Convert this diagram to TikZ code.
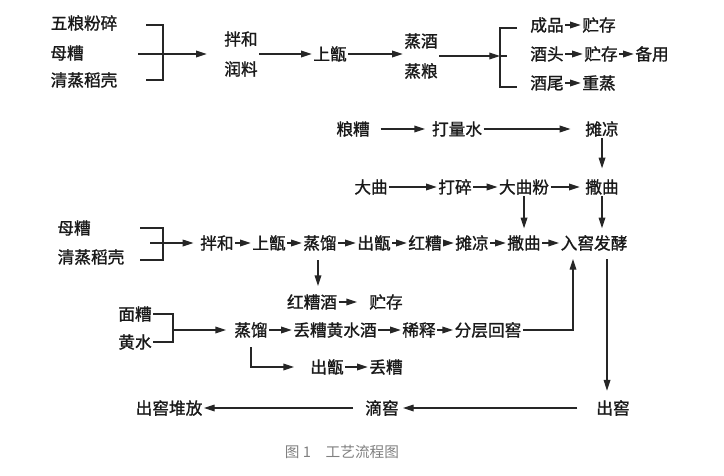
\documentclass[tikz,border=0pt]{standalone}
\usepackage{fontspec}
\setmainfont{Noto Sans CJK SC}[FakeBold=1.2]
\newfontfamily\capfont{Noto Sans CJK SC}
\usetikzlibrary{arrows.meta}

\begin{document}
\begin{tikzpicture}[
    x=0.75pt, y=-0.75pt,
    every node/.style={inner sep=1pt, font=\fontsize{12.5}{22.5}\selectfont, text=black!90},
    stage/.style={align=center},
    line/.style={draw=black!85, line width=0.9pt},
    arr/.style={line, -{Triangle[length=8pt, width=5pt]}},
    caption/.style={font=\capfont\fontsize{11}{13}\selectfont, text=black!50}
]
\useasboundingbox (0,0) rectangle (724,475);

% Nodes: first distillation
\node (wuliang) at (84,23) {五粮粉碎};
\node (muzaoA) at (67,53) {母糟};
\node (daokeA) at (84,80) {清蒸稻壳};
\node[stage] (mixA) at (241,54) {拌和\\润料};
\node (zengA) at (330,54) {上甑};
\node[stage] (steamA) at (421,56) {蒸酒\\蒸粮};
\node (chengpin) at (547,25) {成品};
\node (zhucunA) at (599,25) {贮存};
\node (jiutou) at (547,54) {酒头};
\node (zhucunB) at (601,54) {贮存};
\node (beiyong) at (652,54) {备用};
\node (jiuwei) at (547,83) {酒尾};
\node (chongzheng) at (599,83) {重蒸};

% Nodes: spreading and starter
\node (liangzao) at (353,129) {粮糟};
\node (dashui) at (457,129) {打量水};
\node (tanliangA) at (602,129) {摊凉};
\node (daqu) at (371,187) {大曲};
\node (dasui) at (455,187) {打碎};
\node (daqufen) at (524,187) {大曲粉};
\node (saquA) at (602,187) {撒曲};

% Nodes: main line
\node (muzaoB) at (74,228) {母糟};
\node (daokeB) at (91,257) {清蒸稻壳};
\node (banhe) at (217,243) {拌和};
\node (zengB) at (269,243) {上甑};
\node (zhengliuA) at (320,243) {蒸馏};
\node (chuzengA) at (374,243) {出甑};
\node (hongzao) at (425,243) {红糟};
\node (tanliangB) at (472,243) {摊凉};
\node (saquB) at (524,243) {撒曲};
\node (rujiao) at (594,243) {入窖发酵};

% Nodes: yellow water
\node (hongzaojiu) at (312,302) {红糟酒};
\node (zhucunC) at (386,302) {贮存};
\node (mianzao) at (135,314) {面糟};
\node (huangshui) at (135,342) {黄水};
\node (zhengliuB) at (251,330) {蒸馏};
\node (diujiu) at (335,330) {丢糟黄水酒};
\node (xishi) at (419,330) {稀释};
\node (fenceng) at (488,330) {分层回窖};
\node (chuzengB) at (327,367) {出甑};
\node (diuzao) at (386,367) {丢糟};

% Nodes: out of pit
\node (chujiao) at (613,408) {出窖};
\node (dijiao) at (382,408) {滴窖};
\node (duifang) at (169,408) {出窖堆放};
\node[caption] (title) at (342,452) {图 1\hspace{1em}工艺流程图};

% Bracket corners
\coordinate (bAt) at (146,25);
\coordinate (bAm) at (163,54);
\coordinate (bAb) at (146,80);
\coordinate (bAin) at (138,54);
\coordinate (bBt) at (517,28);
\coordinate (bBm) at (500,56);
\coordinate (bBb) at (517,87);
\coordinate (bBs) at (507,56);
\coordinate (bCt) at (140,228);
\coordinate (bCm) at (163,243);
\coordinate (bCb) at (140,260);
\coordinate (bCin) at (150,243);
\coordinate (bDt) at (153,314);
\coordinate (bDm) at (173,330);
\coordinate (bDb) at (153,342);
\coordinate (rjL) at ([xshift=-15.75pt]rujiao.south);
\coordinate (rjR) at ([xshift=9.75pt]rujiao.south);

% Edges: first distillation
\draw[line] (bAt) -| (bAm) |- (bAb);
\draw[arr, shorten >=12pt] (bAin) -- (mixA);
\draw[arr] (mixA) -- (zengA);
\draw[arr] (zengA) -- (zengA -| steamA.west);
\draw[arr] (steamA.east) -- (bBm);
\draw[line] (bBt) -| (bBm) |- (bBb);
\draw[line] (bBm) -- (bBs);
\draw[arr] (chengpin) -- (zhucunA);
\draw[arr] (jiutou) -- (zhucunB);
\draw[arr] (zhucunB) -- (beiyong);
\draw[arr] (jiuwei) -- (chongzheng);

% Edges: spreading and starter
\draw[arr, shorten <=7pt, shorten >=4pt] (liangzao) -- (dashui);
\draw[arr, shorten >=10pt] (dashui) -- (tanliangA);
\draw[arr, shorten >=7pt] (tanliangA) -- (saquA);
\draw[arr] (daqu) -- (dasui);
\draw[arr] (dasui) -- (daqufen);
\draw[arr, shorten >=3pt] (daqufen) -- (saquA);
\draw[arr, shorten >=4pt] (daqufen) -- (saquB);
\draw[arr, shorten >=4pt] (saquA) -- (saquA |- rujiao.north);

% Edges: main line
\draw[line] (bCt) -| (bCm) |- (bCb);
\draw[arr, shorten >=4pt] (bCin) -- (banhe);
\foreach \a/\b in {banhe/zengB, zengB/zhengliuA, zhengliuA/chuzengA,
                   chuzengA/hongzao, hongzao/tanliangB, tanliangB/saquB, saquB/rujiao}
  \draw[arr] (\a) -- (\b);
\draw[arr, shorten <=6pt, shorten >=5pt] ([xshift=-1.5pt]zhengliuA.south) -- ([xshift=-1.5pt]zhengliuA.south |- hongzaojiu.north);

% Edges: yellow water
\draw[arr, shorten >=8pt] (hongzaojiu) -- (zhucunC);
\draw[line] (bDt) -| (bDm) |- (bDb);
\draw[arr, shorten >=5pt] (bDm) -- (zhengliuB);
\draw[arr] (zhengliuB) -- (diujiu);
\draw[arr] (diujiu) -- (xishi);
\draw[arr] (xishi) -- (fenceng);
\draw[arr, shorten >=5pt] (fenceng.east) -| (rjL);
\draw[arr, shorten <=6pt, shorten >=11pt] (zhengliuB.south) |- (chuzengB.west);
\draw[arr] (chuzengB) -- (diuzao);

% Edges: out of pit
\draw[arr, shorten <=5pt, shorten >=6pt] (rjR) -- (rjR |- chujiao.north);
\draw[arr, shorten <=13pt, shorten >=2pt] (chujiao) -- (dijiao);
\draw[arr, shorten <=8pt] (dijiao) -- (duifang);

\end{tikzpicture}
\end{document}
